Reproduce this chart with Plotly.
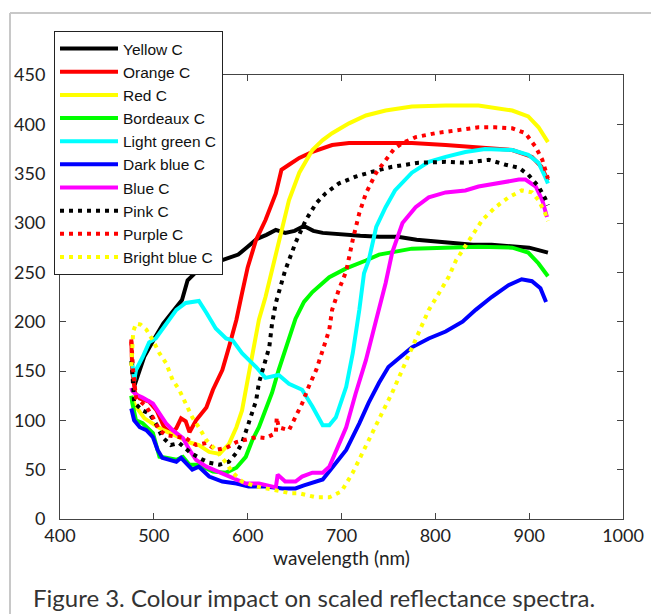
import plotly.graph_objects as go

# ---- data (wavelength in nm, scaled reflectance) ----
yellow_wl = [476, 477, 480, 490, 500, 510, 520, 530, 536, 548, 560, 570, 580, 590, 600, 610, 620, 630, 640, 650, 660, 670, 680, 690, 700, 720, 740, 760, 780, 800, 820, 840, 860, 880, 900, 912, 920]
yellow_val = [140, 140, 137, 165, 182, 198, 210, 222, 242, 253, 258, 261, 264, 268, 276, 284, 288, 293, 290, 292, 297, 292, 290, 289, 288, 287, 286, 286, 283, 281, 279, 278, 278, 276, 275, 272, 270]

orange_wl = [476, 477, 480, 485, 495, 503, 511, 518, 524, 529, 534, 538, 545, 556, 563, 573, 580, 588, 594, 600, 609, 619, 630, 636, 644, 655, 669, 690, 708, 740, 775, 811, 846, 882, 903, 913, 918, 920]
orange_val = [182, 150, 128, 122, 119, 110, 93, 87, 92, 102, 99, 88, 100, 113, 131, 151, 174, 202, 229, 255, 283, 303, 330, 354, 359, 366, 372, 379, 381, 381, 381, 379, 377, 374, 367, 357, 347, 343]

red_wl = [476, 477, 480, 490, 500, 510, 520, 530, 540, 548, 559, 570, 580, 588, 594, 600, 605, 612, 619, 626, 636, 644, 655, 669, 680, 690, 708, 726, 747, 775, 811, 846, 882, 899, 910, 918, 920]
red_val = [125, 122, 115, 102, 96, 90, 86, 82, 77, 75, 68, 66, 76, 93, 110, 141, 168, 202, 225, 252, 293, 323, 351, 374, 384, 391, 401, 409, 414, 418, 419, 419, 414, 408, 397, 384, 382]

bordeaux_wl = [476, 477, 481, 488, 499, 506, 513, 524, 531, 538, 548, 563, 577, 588, 598, 605, 612, 619, 626, 633, 640, 651, 660, 669, 687, 705, 726, 740, 775, 811, 846, 882, 899, 910, 917, 920]
bordeaux_val = [125, 118, 100, 97, 87, 63, 62, 60, 63, 55, 55, 48, 47, 52, 63, 80, 93, 110, 128, 151, 172, 203, 220, 230, 245, 254, 262, 268, 274, 275, 276, 275, 270, 259, 249, 246]

lightgreen_wl = [476, 477, 479, 481, 488, 495, 502, 513, 524, 534, 548, 556, 566, 577, 584, 594, 609, 619, 633, 644, 658, 669, 680, 687, 694, 705, 712, 719, 724, 729, 737, 747, 757, 775, 793, 811, 832, 853, 882, 899, 910, 917, 920]
lightgreen_val = [160, 158, 140, 151, 164, 179, 183, 198, 212, 219, 221, 209, 193, 183, 181, 168, 154, 143, 146, 137, 131, 114, 95, 95, 103, 134, 168, 212, 249, 262, 296, 316, 333, 351, 362, 367, 372, 375, 374, 369, 361, 347, 340]

darkblue_wl = [476, 477, 479, 485, 492, 499, 504, 509, 516, 524, 529, 536, 541, 548, 559, 573, 588, 601, 619, 637, 651, 660, 669, 680, 690, 705, 719, 729, 740, 750, 765, 775, 793, 811, 829, 843, 860, 878, 892, 903, 912, 918]
darkblue_val = [112, 108, 100, 93, 90, 83, 70, 62, 60, 58, 62, 55, 50, 53, 43, 38, 36, 33, 33, 31, 31, 34, 37, 40, 52, 70, 97, 118, 138, 154, 166, 174, 183, 190, 200, 212, 225, 237, 243, 241, 234, 220]

blue_wl = [476, 477, 481, 488, 499, 506, 513, 520, 531, 538, 545, 556, 570, 584, 598, 612, 623, 630, 632, 640, 651, 658, 669, 680, 687, 695, 705, 715, 726, 737, 747, 754, 765, 779, 793, 811, 832, 846, 864, 889, 896, 907, 914, 919]
blue_val = [133, 130, 126, 123, 117, 107, 97, 90, 82, 70, 60, 53, 47, 42, 36, 36, 33, 32, 45, 38, 38, 43, 47, 47, 53, 70, 93, 127, 161, 202, 239, 270, 300, 316, 326, 331, 333, 337, 340, 344, 344, 337, 323, 306]

pink_wl = [476, 477, 479, 488, 495, 502, 509, 518, 527, 538, 548, 559, 570, 580, 588, 594, 601, 609, 612, 617, 623, 626, 630, 636, 640, 651, 662, 673, 683, 697, 715, 733, 754, 782, 811, 832, 857, 875, 889, 899, 910, 917, 920]
pink_val = [160, 150, 118, 110, 107, 97, 83, 75, 77, 68, 62, 57, 55, 58, 67, 77, 97, 120, 138, 154, 174, 198, 219, 239, 252, 280, 303, 320, 330, 340, 347, 352, 357, 361, 362, 361, 364, 359, 356, 349, 337, 325, 318]

purple_wl = [476, 477, 478, 481, 492, 499, 506, 513, 524, 534, 545, 556, 566, 577, 588, 598, 609, 619, 630, 631, 633, 644, 651, 658, 665, 673, 680, 687, 690, 697, 705, 712, 719, 726, 737, 747, 756, 765, 779, 800, 822, 846, 864, 882, 896, 907, 914, 918, 920]
purple_val = [180, 165, 150, 123, 114, 103, 90, 85, 83, 82, 75, 77, 70, 72, 78, 80, 83, 82, 87, 103, 93, 90, 103, 117, 134, 151, 171, 192, 212, 232, 251, 283, 310, 330, 351, 364, 375, 381, 387, 391, 394, 397, 397, 396, 391, 377, 364, 351, 345]

brightblue_wl = [476, 478, 481, 486, 492, 499, 506, 513, 520, 527, 534, 541, 548, 556, 566, 577, 584, 594, 609, 619, 633, 646, 655, 673, 687, 700, 712, 722, 733, 743, 754, 765, 774, 783, 793, 804, 814, 822, 836, 850, 864, 878, 892, 903, 910, 917, 920]
brightblue_val = [155, 190, 198, 197, 192, 181, 168, 158, 141, 131, 117, 103, 93, 80, 70, 57, 47, 38, 33, 31, 28, 26, 26, 22, 22, 28, 47, 67, 87, 107, 128, 151, 171, 190, 212, 229, 245, 262, 283, 303, 316, 326, 333, 331, 323, 310, 302]

series_names = ["Yellow C", "Orange C", "Red C", "Bordeaux C", "Light green C",
                "Dark blue C", "Blue C", "Pink C", "Purple C", "Bright blue C"]
series_x = [yellow_wl, orange_wl, red_wl, bordeaux_wl, lightgreen_wl,
            darkblue_wl, blue_wl, pink_wl, purple_wl, brightblue_wl]
series_y = [yellow_val, orange_val, red_val, bordeaux_val, lightgreen_val,
            darkblue_val, blue_val, pink_val, purple_val, brightblue_val]
series_colors = ["#000000", "#ff0000", "#ffff00", "#00ff00", "#00ffff",
                 "#0000ff", "#ff00ff", "#000000", "#ff0000", "#ffff00"]
series_dash = ["solid"] * 7 + ["4px,5px"] * 3

x_ticks = [400, 500, 600, 700, 800, 900, 1000]
y_ticks = [0, 50, 100, 150, 200, 250, 300, 350, 400, 450]

W, H = 651, 614
ML, MR, MT, MB = 60, 28, 75, 95
PW, PH = W - ML - MR, H - MT - MB


def px2paper_x(px):
    return (px - ML) / PW


def px2paper_y(py):
    return (H - MB - py) / PH


fig = go.Figure()
for name, xs, ys, col, dash in zip(series_names, series_x, series_y, series_colors, series_dash):
    fig.add_trace(go.Scatter(x=xs, y=ys, mode="lines", name=name,
                             line=dict(color=col, width=4, dash=dash)))

axis_common = dict(showgrid=False, zeroline=False, showline=True, linecolor="#444444",
                   linewidth=1, mirror="ticks", ticks="inside", ticklen=6,
                   tickcolor="#444444", tickwidth=1,
                   tickfont=dict(family="Lato", size=18, color="#222222"))

fig.update_xaxes(range=[400, 1000], tickvals=x_ticks, ticktext=[str(v) for v in x_ticks],
                 title=dict(text="wavelength (nm)", font=dict(family="Lato", size=19, color="#222222"),
                            standoff=6),
                 **axis_common)
fig.update_yaxes(range=[0, 450], tickvals=y_ticks, ticktext=[str(v) for v in y_ticks],
                 ticklabelstandoff=10, **axis_common)

# outer light frame of the figure panel
fig.add_shape(type="line", xref="paper", yref="paper",
              x0=px2paper_x(10), y0=px2paper_y(13), x1=px2paper_x(651), y1=px2paper_y(13),
              line=dict(color="#c8c8c8", width=2))
fig.add_shape(type="line", xref="paper", yref="paper",
              x0=px2paper_x(10), y0=px2paper_y(13), x1=px2paper_x(10), y1=px2paper_y(614),
              line=dict(color="#c8c8c8", width=2))

fig.add_annotation(text="Figure 3. Colour impact on scaled reflectance spectra.",
                   xref="paper", yref="paper", x=px2paper_x(31), y=px2paper_y(597),
                   xanchor="left", yanchor="middle", showarrow=False,
                   font=dict(family="Lato", size=24, color="#333333"))

fig.update_layout(
    width=W, height=H,
    margin=dict(l=ML, r=MR, t=MT, b=MB, autoexpand=False),
    paper_bgcolor="white", plot_bgcolor="white",
    showlegend=True,
    legend=dict(xref="container", yref="container", x=54 / W, y=1 - 31 / H,
                xanchor="left", yanchor="top",
                bgcolor="white", bordercolor="#222222", borderwidth=1,
                font=dict(family="Liberation Sans, Arial", size=15.5, color="#111111"),
                itemwidth=58, tracegroupgap=0),
)

fig.write_html("out.html")
